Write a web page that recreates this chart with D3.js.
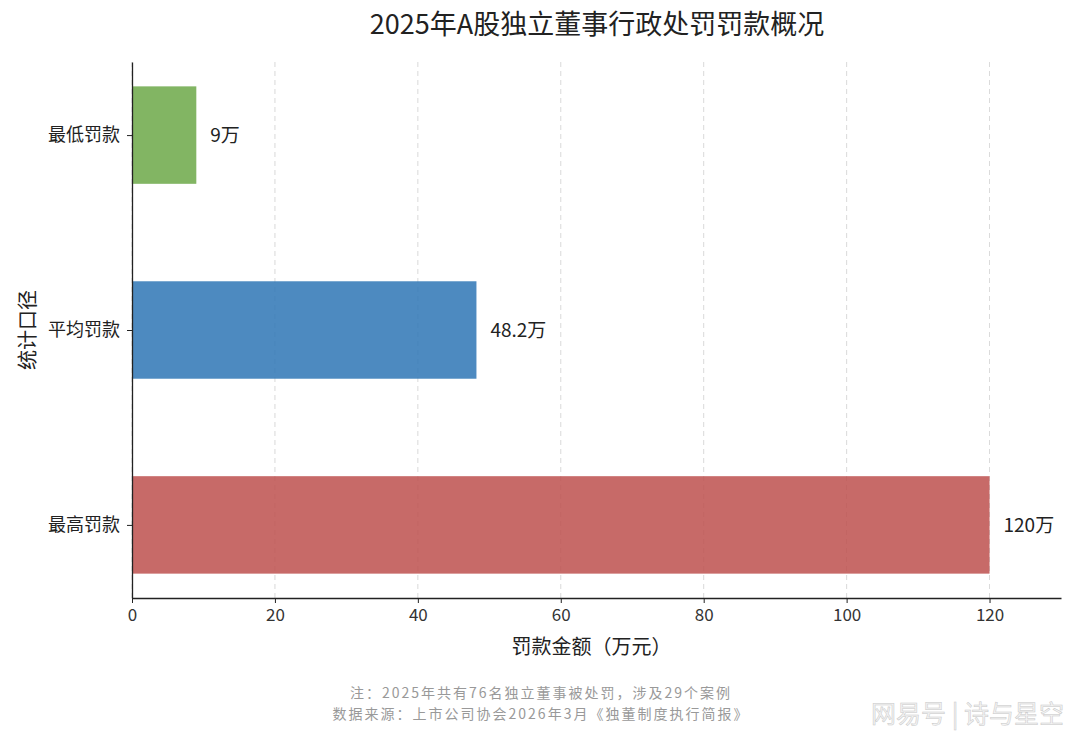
<!DOCTYPE html>
<html>

<head>
    <meta charset="utf-8" />
    <style>
        body {
            margin: 0;
            background-color: white;
        }
        text {
            font-family: "Noto Sans CJK SC", "Noto Sans", sans-serif;
        }
    </style>

    <script src="https://d3js.org/d3.v7.min.js"></script>
</head>

<body>
    <script>
        // data
        var categories = ["最低罚款", "平均罚款", "最高罚款"];
        var values = [9, 48.2, 120];
        var valueLabels = ["9万", "48.2万", "120万"];
        var barColors = ["#6ca848", "#2e76b5", "#bd504e"];
        var xTicks = [0, 20, 40, 60, 80, 100, 120];
        var notes = ["注：2025年共有76名独立董事被处罚，涉及29个案例",
            "数据来源：上市公司协会2026年3月《独董制度执行简报》"];

        var width = 1080,
            height = 738;

        // plot box (window.top is taken, so prefixed names)
        var plotLeft = 132, plotRight = 1061, plotTop = 62, plotBottom = 598;

        var svg = d3.select("body").append("svg")
            .attr("width", width)
            .attr("height", height);

        var x = d3.scaleLinear().domain([0, 130]).range([plotLeft, plotRight]);
        // bars 0.5 high, matplotlib-like 5% margin
        var y = d3.scaleLinear().domain([-0.375, 2.375]).range([plotTop, plotBottom]);
        var barH = 0.5;

        // grid
        svg.append("g").selectAll("line")
            .data(xTicks)
            .enter().append("line")
            .attr("x1", function (d) { return x(d); })
            .attr("x2", function (d) { return x(d); })
            .attr("y1", plotTop)
            .attr("y2", plotBottom)
            .attr("stroke", "#cccccc")
            .attr("stroke-width", 0.9)
            .attr("stroke-dasharray", "5,4")
            .attr("opacity", 0.8);

        // bars
        svg.append("g").selectAll("rect")
            .data(values)
            .enter().append("rect")
            .attr("x", x(0))
            .attr("y", function (d, i) { return y(i - barH / 2); })
            .attr("width", function (d) { return x(d) - x(0); })
            .attr("height", function (d, i) { return y(i + barH / 2) - y(i - barH / 2); })
            .attr("fill", function (d, i) { return barColors[i]; })
            .attr("fill-opacity", 0.85);

        // value labels
        svg.append("g").selectAll("text")
            .data(values)
            .enter().append("text")
            .attr("x", function (d) { return x(d) + 14; })
            .attr("y", function (d, i) { return y(i); })
            .attr("dy", "0.35em")
            .attr("font-size", 19)
            .attr("fill", "#222")
            .text(function (d, i) { return valueLabels[i]; });

        // x axis
        var xAxis = svg.append("g")
            .attr("transform", "translate(0," + plotBottom + ")")
            .call(d3.axisBottom(x).tickValues(xTicks).tickSize(5).tickPadding(6).tickSizeOuter(0));
        xAxis.select(".domain").attr("stroke", "#222").attr("stroke-width", 1.3);
        xAxis.selectAll(".tick line").attr("stroke", "#222");
        xAxis.selectAll(".tick text").attr("font-size", 17).attr("fill", "#333")
            .style("font-family", "'Noto Sans CJK SC', sans-serif");

        // y axis
        var yAxis = svg.append("g")
            .attr("transform", "translate(" + plotLeft + ",0)")
            .call(d3.axisLeft(y).tickValues([0, 1, 2])
                .tickFormat(function (d) { return categories[d]; })
                .tickSize(5).tickPadding(7).tickSizeOuter(0));
        yAxis.select(".domain").attr("stroke", "#222").attr("stroke-width", 1.3);
        yAxis.selectAll(".tick line").attr("stroke", "#222");
        yAxis.selectAll(".tick text").attr("font-size", 18).attr("fill", "#222")
            .style("font-family", "'Noto Sans CJK SC', sans-serif");

        // title
        svg.append("text")
            .attr("x", 597)
            .attr("y", 34)
            .attr("text-anchor", "middle")
            .attr("font-size", 27)
            .attr("fill", "#222")
            .text("2025年A股独立董事行政处罚罚款概况");

        // axis labels
        svg.append("text")
            .attr("x", (plotLeft + plotRight) / 2 - 5)
            .attr("y", 654)
            .attr("text-anchor", "middle")
            .attr("font-size", 20)
            .attr("fill", "#222")
            .text("罚款金额（万元）");

        svg.append("text")
            .attr("transform", "translate(35," + (plotTop + plotBottom) / 2 + ")rotate(-90)")
            .attr("text-anchor", "middle")
            .attr("font-size", 20)
            .attr("fill", "#222")
            .text("统计口径");

        // notes
        svg.append("g").selectAll("text")
            .data(notes)
            .enter().append("text")
            .attr("x", 541)
            .attr("y", function (d, i) { return 698 + i * 21; })
            .attr("text-anchor", "middle")
            .attr("font-size", 14)
            .attr("letter-spacing", 2)
            .attr("fill", "#999")
            .text(function (d) { return d; });

        // watermark
        svg.append("text")
            .attr("x", 1064)
            .attr("y", 723)
            .attr("text-anchor", "end")
            .attr("font-size", 25)
            .attr("fill", "#f4f4f4")
            .attr("stroke", "#c8c8c8")
            .attr("stroke-width", 0.5)
            .text("网易号 | 诗与星空");
    </script>
</body>

</html>
